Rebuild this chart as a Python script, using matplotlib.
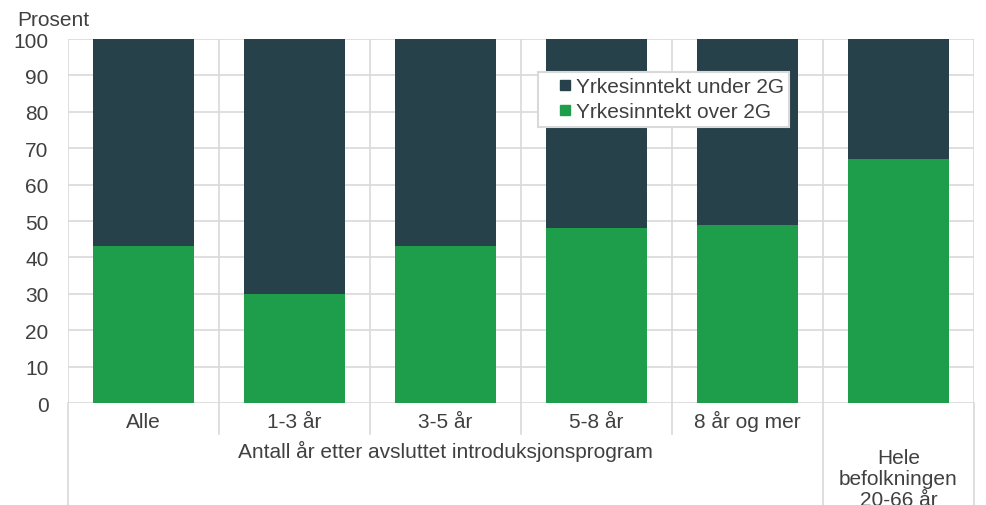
import matplotlib.pyplot as plt
import numpy as np
from matplotlib.lines import Line2D

plt.rcParams['font.family'] = ['Liberation Sans', 'DejaVu Sans']

### data
categories = ['Alle', '1-3 år', '3-5 år', '5-8 år', '8 år og mer', '']
over_2g = [43, 30, 43, 48, 49, 67]
under_2g = [57, 70, 57, 52, 51, 33]
group_labels = ['Antall år etter avsluttet introduksjonsprogram',
                'Hele\nbefolkningen\n20-66 år']
series_names = ['Yrkesinntekt under 2G', 'Yrkesinntekt over 2G']

dark = '#27414a'
green = '#1e9e4a'
grid_c = '#d9d9d9'
txt_c = '#404040'
fs = 15

fig = plt.figure(figsize=(9.86, 5.06), dpi=100)
ax = fig.add_axes([68/986, 1-404/506, 906/986, 364/506])

x = np.arange(len(categories)) + 0.5
ax.bar(x, over_2g, width=0.67, color=green, zorder=3)
ax.bar(x, under_2g, width=0.67, bottom=over_2g, color=dark, zorder=3)

ax.set_xlim(0, 6)
ax.set_ylim(0, 100)
ax.set_yticks(range(0, 101, 10))
ax.set_xticks([])
ax.set_xticks(range(0, 7), minor=True)
ax.tick_params(axis='both', which='both', length=0, labelsize=fs, colors=txt_c)
ax.tick_params(axis='y', pad=14)
ax.tick_params(axis='x', which='minor', labelbottom=False)
ax.grid(axis='y', color=grid_c, lw=1.2, zorder=0)
ax.grid(axis='x', which='minor', color=grid_c, lw=1.2, zorder=0)
for s in ax.spines.values():
    s.set_visible(False)

tr = ax.get_xaxis_transform()

# category labels
for xi, lab in zip(x, categories):
    ax.text(xi, -0.066, lab, transform=tr, ha='center', va='baseline',
            fontsize=fs, color=txt_c)

# separators below the axis
for xs in [1, 2, 3, 4]:
    ax.plot([xs, xs], [0, -0.085], color=grid_c, lw=1.2, transform=tr, clip_on=False)
for xs in [0, 5, 6]:
    ax.plot([xs, xs], [0, -0.3], color=grid_c, lw=1.2, transform=tr, clip_on=False)

ax.text(2.5, -0.148, group_labels[0], transform=tr, ha='center', va='baseline',
        fontsize=fs, color=txt_c)
ax.text(5.5, -0.28, group_labels[1], transform=tr, ha='center', va='baseline',
        fontsize=fs, color=txt_c, linespacing=1.12)

fig.text(17/986, 1-21/506, 'Prosent', ha='left', va='center', fontsize=fs, color=txt_c)

handles = [Line2D([], [], ls='', marker='s', markersize=7.2, color=dark),
           Line2D([], [], ls='', marker='s', markersize=7.2, color=green)]
leg = ax.legend(handles, series_names, loc='upper left',
                bbox_to_anchor=((538-68)/906, (404-73)/364), fontsize=fs,
                handlelength=2.1, handletextpad=-0.53,
                labelspacing=0.3, borderpad=0.25, borderaxespad=0,
                fancybox=False, framealpha=1,
                edgecolor=grid_c, labelcolor=txt_c)
leg.get_frame().set_linewidth(1.5)
leg.set_zorder(5)

plt.savefig('out.png', dpi=100)
